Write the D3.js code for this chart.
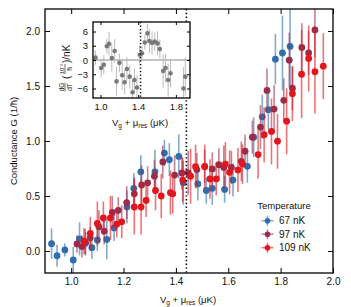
<!DOCTYPE html>
<html><head><meta charset="utf-8">
<script src="https://cdn.jsdelivr.net/npm/d3@7"></script>
<style>body{margin:0;background:#fff}svg{display:block}text{font-family:"Liberation Sans",Arial,sans-serif}</style>
</head><body><svg id="c" width="351" height="307"></svg>
<script>
// ---------- data ----------
const seriesNames = ["67 nK", "97 nK", "109 nK"];
const seriesColors = ["#2f6fae", "#9b2d4c", "#e3161d"];

const blueX = [0.925,0.946,0.976,1.008,1.032,1.055,1.079,1.100,1.136,1.164,1.213,1.239,1.266,1.320,1.356,1.375,1.411,1.428,1.484,1.516,1.539,1.586,1.618,1.673,1.697,1.730,1.753,1.780,1.807,1.836];
const blueY = [0.067,-0.043,0.010,-0.082,0.110,0.070,0.030,0.100,0.105,0.210,0.400,0.570,0.720,0.720,0.890,0.830,0.860,0.620,0.610,0.550,0.570,0.560,0.645,0.770,1.035,1.220,1.285,1.744,1.800,1.860];
const blueE = [0.14,0.10,0.06,0.12,0.15,0.10,0.10,0.10,0.18,0.12,0.15,0.14,0.15,0.20,0.12,0.15,0.20,0.20,0.15,0.12,0.15,0.12,0.15,0.15,0.18,0.20,0.18,0.23,0.34,0.40];

const maroonX = [1.022,1.041,1.054,1.073,1.106,1.126,1.157,1.180,1.212,1.241,1.269,1.292,1.318,1.350,1.395,1.423,1.447,1.480,1.510,1.539,1.564,1.583,1.612,1.650,1.664,1.692,1.723,1.748,1.775,1.812,1.833,1.845,1.881,1.907,1.931];
const maroonY = [0.064,0.040,0.080,0.120,0.220,0.180,0.350,0.370,0.440,0.520,0.600,0.620,0.680,0.810,0.690,0.710,0.710,0.740,0.770,0.746,0.785,0.760,0.760,0.815,0.907,1.035,1.126,1.460,1.290,1.370,1.735,1.480,1.850,1.800,2.010];
const maroonE = [0.08,0.10,0.12,0.10,0.15,0.12,0.15,0.12,0.15,0.15,0.18,0.15,0.15,0.15,0.18,0.15,0.20,0.15,0.15,0.15,0.15,0.20,0.15,0.18,0.15,0.15,0.20,0.20,0.22,0.20,0.25,0.20,0.22,0.20,0.25];

const redX = [1.049,1.073,1.100,1.123,1.150,1.174,1.193,1.241,1.267,1.286,1.322,1.344,1.379,1.388,1.426,1.456,1.475,1.510,1.530,1.554,1.589,1.605,1.637,1.654,1.714,1.737,1.765,1.788,1.823,1.845,1.880,1.907,1.931,1.963];
const redY = [0.090,0.160,0.250,0.300,0.300,0.244,0.265,0.400,0.400,0.460,0.550,0.500,0.530,0.520,0.645,0.680,0.767,0.767,0.655,0.655,0.790,0.715,0.737,0.790,0.877,1.057,1.087,0.998,1.180,1.430,1.607,1.750,1.630,1.680];
const redE = [0.12,0.15,0.20,0.15,0.20,0.12,0.15,0.25,0.25,0.15,0.18,0.20,0.20,0.18,0.20,0.25,0.20,0.20,0.18,0.15,0.20,0.20,0.20,0.18,0.22,0.25,0.30,0.25,0.30,0.25,0.40,0.30,0.38,0.30];

const insetX = [0.947,1.007,1.035,1.067,1.090,1.120,1.150,1.170,1.200,1.230,1.256,1.280,1.310,1.340,1.360,1.387,1.416,1.440,1.470,1.498,1.520,1.547,1.576,1.605,1.630,1.665,1.690,1.718,1.743,1.880,1.900];
const insetY = [0.5,-1.7,-1.0,2.9,3.4,0.4,1.9,-4.5,-0.6,-3.2,-4.7,-1.9,-3.5,-6.8,-4.2,-5.8,1.1,1.4,3.7,5.6,4.0,3.6,3.9,3.5,2.3,-2.3,-1.7,-4.2,-2.8,-6.0,-3.5];
const insetE = [1.5,2.0,2.0,1.5,2.5,3.0,2.5,3.0,2.0,3.0,2.5,2.5,2.5,2.5,2.5,2.5,2.0,1.5,1.5,2.0,2.5,2.5,2.0,2.5,2.0,3.5,3.0,3.5,3.0,4.5,4.0];

const mainXTicks = [1.0,1.2,1.4,1.6,1.8,2.0];
const mainYTicks = [0.0,0.5,1.0,1.5,2.0];
const insetXTicks = [1.0,1.4,1.8];
const insetYTicks = [-6,-3,0,3,6];
const mainMarker = 1.44;
const insetMarker = 1.425;

// ---------- drawing ----------
const svg = d3.select("#c");
const L=45,R=333,T=9,B=273;
const x = d3.scaleLinear().domain([0.9,2.0]).range([L,R]);
const y = d3.scaleLinear().domain([-0.2,2.2]).range([B,T]);

svg.append("clipPath").attr("id","mc").append("rect").attr("x",L).attr("y",T).attr("width",R-L).attr("height",B-T);

function axes(g, xs, ys, xt, yt, fmtx, fmty, tl, fs){
  const [x0,x1]=xs.range(), [y0,y1]=ys.range();
  g.append("g").attr("transform",`translate(0,${y0})`)
    .call(d3.axisBottom(xs).tickValues(xt).tickSizeInner(-tl).tickSizeOuter(0).tickPadding(5).tickFormat(fmtx));
  g.append("g").attr("transform",`translate(0,${y1})`)
    .call(d3.axisTop(xs).tickValues(xt).tickSizeInner(-tl).tickSizeOuter(0).tickFormat(""));
  g.append("g").attr("transform",`translate(${x0},0)`)
    .call(d3.axisLeft(ys).tickValues(yt).tickSizeInner(-tl).tickSizeOuter(0).tickPadding(5).tickFormat(fmty));
  g.append("g").attr("transform",`translate(${x1},0)`)
    .call(d3.axisRight(ys).tickValues(yt).tickSizeInner(-tl).tickSizeOuter(0).tickFormat(""));
  g.selectAll(".domain").remove();
  g.selectAll(".tick line").attr("stroke","#000").attr("stroke-width",1);
  g.selectAll(".tick text").attr("font-size",fs).attr("fill","#111").style("font-family","Liberation Sans, Arial, sans-serif");
  g.append("rect").attr("x",x0).attr("y",y1).attr("width",x1-x0).attr("height",y0-y1)
    .attr("fill","none").attr("stroke","#000").attr("stroke-width",1.3);
}

// main data
const mg = svg.append("g").attr("clip-path","url(#mc)");
const all = [[blueX,blueY,blueE],[maroonX,maroonY,maroonE],[redX,redY,redE]];
all.forEach(([xs,ys,es],k)=>{
  const d = xs.map((v,i)=>({x:v,y:ys[i],e:es[i]}));
  const g = mg.append("g");
  g.selectAll("line.v").data(d).join("line").attr("class","v")
    .attr("x1",p=>x(p.x)).attr("x2",p=>x(p.x)).attr("y1",p=>y(p.y-p.e)).attr("y2",p=>y(p.y+p.e))
    .attr("stroke",seriesColors[k]).attr("stroke-width",1.6).attr("stroke-opacity",0.6);
  g.selectAll("line.h").data(d).join("line").attr("class","h")
    .attr("x1",p=>x(p.x-0.01)).attr("x2",p=>x(p.x+0.01)).attr("y1",p=>y(p.y)).attr("y2",p=>y(p.y))
    .attr("stroke",seriesColors[k]).attr("stroke-width",1.4).attr("stroke-opacity",0.6);
  g.selectAll("circle").data(d).join("circle")
    .attr("cx",p=>x(p.x)).attr("cy",p=>y(p.y)).attr("r",3.4).attr("fill",seriesColors[k]);
});
mg.append("line").attr("x1",x(mainMarker)).attr("x2",x(mainMarker)).attr("y1",T).attr("y2",B)
  .attr("stroke","#000").attr("stroke-width",1.6).attr("stroke-dasharray","1.4,2.4");

axes(svg.append("g"), x, y, mainXTicks, mainYTicks, d3.format(".1f"), d3.format(".1f"), 5, 10);

// axis labels
const xl = svg.append("text").attr("x",188).attr("y",303).attr("text-anchor","middle").attr("font-size",9.5).attr("fill","#111");
xl.append("tspan").text("V");
xl.append("tspan").attr("font-size",6.5).attr("dy",2).text("g");
xl.append("tspan").attr("dy",-2).text(" + μ");
xl.append("tspan").attr("font-size",6.5).attr("dy",2).text("res");
xl.append("tspan").attr("dy",-2).text(" (μK)");

svg.append("text").attr("transform","translate(17,141) rotate(-90)").attr("text-anchor","middle")
  .attr("font-size",9.5).attr("fill","#111").text("Conductance G (1/ħ)");

// legend
svg.append("text").attr("x",284).attr("y",209).attr("text-anchor","middle").attr("font-size",9.5).attr("fill","#111").text("Temperature");
seriesNames.forEach((n,i)=>{
  const cy = 220.7 + i*13.5, cx = 267.5;
  const g = svg.append("g");
  g.append("line").attr("x1",cx-6).attr("x2",cx+6).attr("y1",cy).attr("y2",cy).attr("stroke",seriesColors[i]).attr("stroke-width",1.5).attr("stroke-opacity",0.6);
  g.append("line").attr("x1",cx).attr("x2",cx).attr("y1",cy-5).attr("y2",cy+5).attr("stroke",seriesColors[i]).attr("stroke-width",1.5).attr("stroke-opacity",0.6);
  g.append("circle").attr("cx",cx).attr("cy",cy).attr("r",2.8).attr("fill",seriesColors[i]);
  g.append("text").attr("x",279).attr("y",cy+3.5).attr("font-size",10).attr("fill","#111").text(n);
});

// ---------- inset ----------
const iL=93,iR=190,iT=22,iB=98;
const xi = d3.scaleLinear().domain([0.92,1.95]).range([iL,iR]);
const yi = d3.scaleLinear().domain([-8,8]).range([iB,iT]);
svg.append("rect").attr("x",iL).attr("y",iT).attr("width",iR-iL).attr("height",iB-iT).attr("fill","#fff");
svg.append("clipPath").attr("id","ic").append("rect").attr("x",iL).attr("y",iT).attr("width",iR-iL).attr("height",iB-iT);
const ig = svg.append("g").attr("clip-path","url(#ic)");
ig.append("line").attr("x1",iL).attr("x2",iR).attr("y1",yi(0)).attr("y2",yi(0)).attr("stroke","#888").attr("stroke-width",1);
const idata = insetX.map((v,i)=>({x:v,y:insetY[i],e:insetE[i]}));
ig.selectAll("line.ie").data(idata).join("line").attr("class","ie")
  .attr("x1",p=>xi(p.x)).attr("x2",p=>xi(p.x)).attr("y1",p=>yi(p.y-p.e)).attr("y2",p=>yi(p.y+p.e))
  .attr("stroke","#bbb").attr("stroke-width",1);
ig.selectAll("circle").data(idata).join("circle")
  .attr("cx",p=>xi(p.x)).attr("cy",p=>yi(p.y)).attr("r",2.3).attr("fill","#7a7a7a");
ig.append("line").attr("x1",xi(insetMarker)).attr("x2",xi(insetMarker)).attr("y1",iT).attr("y2",iB)
  .attr("stroke","#000").attr("stroke-width",1.5).attr("stroke-dasharray","1.3,2.2");
axes(svg.append("g"), xi, yi, insetXTicks, insetYTicks, d3.format(".1f"), d3.format("d"), 3, 9.5);

// inset x label
const ixl = svg.append("text").attr("x",140).attr("y",126).attr("text-anchor","middle").attr("font-size",9.5).attr("fill","#111");
ixl.append("tspan").text("V");
ixl.append("tspan").attr("font-size",6.5).attr("dy",2).text("g");
ixl.append("tspan").attr("dy",-2).text(" + μ");
ixl.append("tspan").attr("font-size",6.5).attr("dy",2).text("res");
ixl.append("tspan").attr("dy",-2).text(" (μK)");

// inset y label (rotated, with small fractions)
const iy = svg.append("g").attr("transform","translate(68,60) rotate(-90)").attr("fill","#111");
iy.append("text").attr("x",-27).attr("y",-4.5).attr("text-anchor","middle").attr("font-size",6.5).text("dG");
iy.append("text").attr("x",-27).attr("y",3.5).attr("text-anchor","middle").attr("font-size",6.5).text("dT");
iy.append("line").attr("x1",-31.5).attr("x2",-22.5).attr("y1",-3).attr("y2",-3).attr("stroke","#111").attr("stroke-width",0.6);
iy.append("text").attr("x",-19).attr("y",1.5).attr("font-size",10).text("(");
iy.append("text").attr("x",-9).attr("y",-4.5).attr("text-anchor","middle").attr("font-size",6).text("10⁻²");
iy.append("text").attr("x",-9).attr("y",3.5).attr("text-anchor","middle").attr("font-size",6.5).text("ħ");
iy.append("line").attr("x1",-14).attr("x2",-4).attr("y1",-3).attr("y2",-3).attr("stroke","#111").attr("stroke-width",0.6);
iy.append("text").attr("x",-3).attr("y",1.5).attr("font-size",10).text(")/nK");
</script></body></html>
